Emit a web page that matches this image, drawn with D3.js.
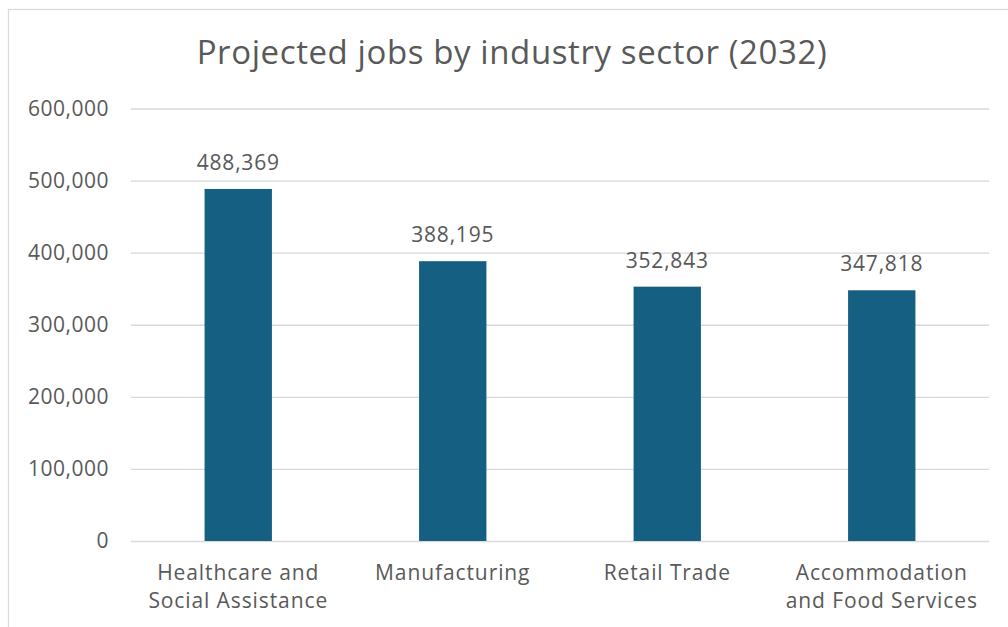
<!DOCTYPE html>
<html>
<head>
<meta charset="utf-8">
<script src="https://cdn.jsdelivr.net/npm/d3@7"></script>
<style>
  html, body { margin: 0; padding: 0; background: #fff; }
  svg { display: block; }
  text { font-family: "Open Sans", "Liberation Sans", sans-serif; fill: #595959; }
</style>
</head>
<body>
<svg id="chart" width="1008" height="627"></svg>
<script>
// Projected employment by industry sector, 2032
const chartTitle = "Projected jobs by industry sector (2032)";
const sectors = [
  ["Healthcare and", "Social Assistance"],
  ["Manufacturing"],
  ["Retail Trade"],
  ["Accommodation", "and Food Services"]
];
const sectorKeys = ["Healthcare and Social Assistance", "Manufacturing", "Retail Trade", "Accommodation and Food Services"];
const jobs = [488369, 388195, 352843, 347818];
const yTicks = [0, 100000, 200000, 300000, 400000, 500000, 600000];

const svg = d3.select("#chart");
const plot = { left: 131, right: 989, top: 108.5, bottom: 541 };
const barColor = "#156082";
const gridColor = "#d9d9d9";

// outer chart frame
svg.append("rect")
  .attr("x", 8.5).attr("y", 9.5)
  .attr("width", 1020).attr("height", 640)
  .attr("fill", "#fff")
  .attr("stroke", gridColor).attr("stroke-width", 1.2);

const x = d3.scaleBand()
  .domain(sectorKeys)
  .range([plot.left, plot.right])
  .paddingInner(0.686)
  .paddingOuter(0.343);

const y = d3.scaleLinear()
  .domain([0, 600000])
  .range([plot.bottom, plot.top]);

// title
svg.append("text")
  .attr("x", 512).attr("y", 64)
  .attr("text-anchor", "middle")
  .attr("letter-spacing", "0.6px")
  .style("font-size", "33px")
  .text(chartTitle);

// horizontal gridlines and value axis labels
const yAxis = d3.axisLeft(y)
  .tickValues(yTicks)
  .tickSize(-(plot.right - plot.left))
  .tickPadding(22)
  .tickFormat(d3.format(","));

const gy = svg.append("g")
  .attr("transform", `translate(${plot.left},0)`)
  .call(yAxis);
gy.select(".domain").remove();
gy.selectAll(".tick line").attr("stroke", gridColor).attr("stroke-width", 1.3);
gy.selectAll(".tick text")
  .style("font-size", "21px")
  .style("font-family", "\"Open Sans\", sans-serif")
  .attr("fill", "#595959")
  .attr("letter-spacing", "0.5px");

// bars
svg.append("g").selectAll("rect")
  .data(jobs)
  .join("rect")
  .attr("x", (d, i) => x(sectorKeys[i]))
  .attr("width", x.bandwidth())
  .attr("y", d => y(d))
  .attr("height", d => y(0) - y(d))
  .attr("fill", barColor);

// value labels
svg.append("g").selectAll("text")
  .data(jobs)
  .join("text")
  .attr("x", (d, i) => x(sectorKeys[i]) + x.bandwidth() / 2)
  .attr("y", d => y(d) - 19)
  .attr("text-anchor", "middle")
  .attr("letter-spacing", "0.8px")
  .style("font-size", "21px")
  .text(d => d3.format(",")(d));

// category labels
const cat = svg.append("g").selectAll("text")
  .data(sectors)
  .join("text")
  .attr("x", (d, i) => x(sectorKeys[i]) + x.bandwidth() / 2)
  .attr("y", 580)
  .attr("text-anchor", "middle")
  .attr("letter-spacing", "0.9px")
  .style("font-size", "21px");
cat.selectAll("tspan")
  .data(d => d)
  .join("tspan")
  .attr("x", function() { return d3.select(this.parentNode).attr("x"); })
  .attr("dy", (d, i) => i === 0 ? 0 : 28)
  .text(d => d);
</script>
</body>
</html>
